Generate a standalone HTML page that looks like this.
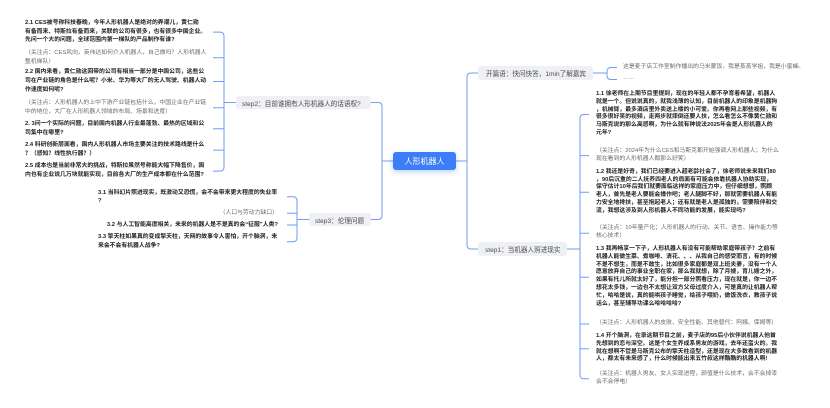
<!DOCTYPE html>
<html>
<head>
<meta charset="utf-8">
<style>
  html,body{margin:0;padding:0;}
  body{width:830px;height:408px;background:#fff;position:relative;overflow:hidden;
       font-family:"Liberation Sans","Noto Sans CJK SC",sans-serif;}
  .t{position:absolute;white-space:nowrap;font-size:5.85px;font-family:"Liberation Sans","Noto Sans CJK SC",sans-serif;}
  .b{font-weight:bold;color:#222;}
  .g{color:#6a6a6a;font-weight:normal;}
  .r{line-height:7.8px;}
  .l{line-height:8.8px;}
  .node{position:absolute;background:#eef0f3;border-radius:3px;color:#4d4d4d;font-size:6.6px;
        display:flex;align-items:center;white-space:nowrap;box-sizing:border-box;
        font-family:"Liberation Sans","Noto Sans CJK SC",sans-serif;}
  .center{position:absolute;left:393px;top:152px;width:63px;height:18px;background:#3d7ef6;border-radius:3px;
          color:#fff;font-size:8px;display:flex;align-items:center;justify-content:center;
          box-shadow:0 2px 6px rgba(61,126,246,0.35);
          font-family:"Liberation Sans","Noto Sans CJK SC",sans-serif;}
  svg{position:absolute;left:0;top:0;}
</style>
</head>
<body>
<svg width="830" height="408" viewBox="0 0 830 408">
  <g fill="none" stroke="#6f9df7" stroke-width="1">
    <!-- left main -->
    <path d="M393,161 H382"/>
    <path d="M371,102.5 H378 Q382,102.5 382,106.5 V215.5 Q382,219.5 378,219.5 H371"/>
    <!-- right main -->
    <path d="M456,161 H467"/>
    <path d="M478,73 H471 Q467,73 467,77 V245 Q467,249 471,249 H478"/>
    <!-- opening bracket -->
    <path d="M593,73 H607"/>
    <path d="M617,67.5 H611 Q607,67.5 607,71.5 V75.5 Q607,79.5 611,79.5 H617"/>
    <!-- step1 bracket -->
    <path d="M567,249 H580"/>
    <path d="M589,114.5 H584 Q580,114.5 580,118.5 V374.7 Q580,378.7 584,378.7 H589"/>
    <path d="M580,155.6 H589 M580,192.2 H589 M580,233.2 H589 M580,277.3 H589 M580,324 H589 M580,348.7 H589"/>
    <!-- step2 bracket -->
    <path d="M236,102.5 H224"/>
    <path d="M213,32.1 H220 Q224,32.1 224,36.1 V167.1 Q224,171.1 220,171.1 H213"/>
    <path d="M213,57.7 H224 M213,81.5 H224 M213,107.7 H224 M213,128.7 H224 M213,150.1 H224"/>
    <!-- step3 bracket -->
    <path d="M309,219.5 H297"/>
    <path d="M287,196.7 H293 Q297,196.7 297,200.7 V237.7 Q297,241.7 293,241.7 H287"/>
    <path d="M287,213.3 H297 M287,225 H297"/>
  </g>
</svg>

<!-- central node -->
<div class="center">人形机器人</div>

<!-- main branch nodes -->
<div class="node" style="left:236px;top:96px;width:135px;height:13px;padding-left:6px;">step2：目前谁拥有人形机器人的话语权?</div>
<div class="node" style="left:309px;top:213px;width:62px;height:13px;padding-left:6px;">step3：伦理问题</div>
<div class="node" style="left:478px;top:66px;width:115px;height:14px;padding-left:8px;">开篇语：快问快答，1min了解嘉宾</div>
<div class="node" style="left:478px;top:242px;width:89px;height:14px;padding-left:7px;">step1：当机器人照进现实</div>

<!-- opening children -->
<div class="t g" style="left:623px;top:63.6px;line-height:7.8px;">这是麦子店工作室制作播出的马米蒙饭，我是蒸蒸学姐，我是小蜜蜂。</div>
<div class="t g" style="left:623px;top:75.1px;line-height:7.8px;">……</div>

<!-- step1 children -->
<div class="t b r" style="left:596px;top:91.1px;">1.1 徐老师在上期节目里提到，现在的年轻人都不孕育着希望，机器人<br>就是一个。但说说真的，就我浅薄的认知，目前机器人的印象是机器狗<br>，机械臂，最多酒店里外卖送上楼的小可爱。你再看网上那些视频，有<br>很多很好笑的视频，走两步就摔倒还要人扶，怎么看怎么不像黄仁勋和<br>马斯克说的那么高感啊，为什么就有种说法2025年会是人形机器人的<br>元年?</div>
<div class="t g r" style="left:596px;top:147.8px;">（关注点：2024年为什么CES和马斯克都开始强调人形机器人；为什么<br>现在看到的人形机器人都那么好笑）</div>
<div class="t b r" style="left:596px;top:168.8px;">1.2 我还是好奇，我们已经要进入超老龄社会了，徐老师说未来我们80<br>，90后沉重的二人抚养四老人的局面有可能会依靠机器人协助实现，<br>保守估计10年后我们就要面临这样的家庭压力中，但仔细想想，照顾<br>老人，首先是老人要能会操作吧；老人腿脚不好，那就需要机器人有能<br>力安全地搀扶，甚至抱起老人；还有就是老人是孤独的，需要陪伴和交<br>流，我想这涉及到人形机器人不同功能的发展，能实现吗?</div>
<div class="t g r" style="left:596px;top:225.4px;">（关注点：10年量产化；人形机器人的行动、关节、语言、操作能力等<br>核心技术）</div>
<div class="t b r" style="left:596px;top:246.1px;">1.3 我再畅享一下子，人形机器人有没有可能帮助家庭带孩子？之前有<br>机器人能做生菜、煮咖啡、清花、、、从我自己的感受而言，有的时候<br>不是不想生，而是不敢生，比如很多家庭都是双上班夫妻，没有一个人<br>愿意放弃自己的事业全职在家，那么我就想，除了月嫂，育儿嫂之外，<br>如果有托儿所就太好了，能分担一部分照看压力，现在就是，你一边不<br>想花太多钱，一边也不太想让双方父母过度介入，可是真的让机器人帮<br>忙，哈哈是说，真的能哄孩子睡觉，给孩子喂奶，做饭洗衣，教孩子说<br>话么，甚至辅导功课么哈哈哈哈?</div>
<div class="t g r" style="left:596px;top:320.1px;">（关注点：人形机器人的皮肤、安全性能、其他替代：阿姨、保姆等）</div>
<div class="t b r" style="left:596px;top:333.1px;">1.4 开个脑洞，在录这期节目之前，麦子店的95后小伙伴说机器人他首<br>先想到的恋与深空。这是个女生养成系男友的游戏，去年还蛮火的。我<br>就在想啊不管是马斯克公布的擎天柱造型，还是现在大多数看到的机器<br>人，都太有未来感了，什么时候能出来五竹叔这样酷酷的机器人啊!</div>
<div class="t g r" style="left:596px;top:370.8px;">（关注点：机器人男友、女人实现进程，颜值是什么技术，会不会掉漆<br>会不会停电）</div>

<!-- step2 children -->
<div class="t b l" style="left:25px;top:18.9px;">2.1 CES被号称科技春晚，今年人形机器人是绝对的弄潮儿，黄仁勋<br>有备而来、特斯拉有备而来，关联的公司有很多，也有很多中国企业。<br>先问一个大的问题，全球范围内第一梯队的产品制作有谁?</div>
<div class="t g l" style="left:25px;top:48.9px;">（关注点：CES风向，英伟达如何介入机器人，自己做吗？人形机器人<br>整机梯队）</div>
<div class="t b l" style="left:25px;top:68.3px;">2.2 国内来看，黄仁勋这回带的公司有相当一部分是中国公司，这些公<br>司在产业链的角色是什么呢？小米、华为等大厂的无人驾驶、机器人动<br>作速度如何呢?</div>
<div class="t g l" style="left:25px;top:98.9px;">（关注点：人形机器人的上中下游产业链包括什么，中国企业在产业链<br>中的地位，大厂在人形机器人领域的布局、场景和进度）</div>
<div class="t b l" style="left:25px;top:119.9px;">2. 3问一个实际的问题，目前国内机器人行业最蓬勃、最热的区域和公<br>司集中在哪里?</div>
<div class="t b l" style="left:25px;top:141.3px;">2.4 科研创新层面看，国内人形机器人市场主要关注的技术路线是什么<br>？（感知？线性执行器？）</div>
<div class="t b l" style="left:25px;top:162.3px;">2.5 成本也是当前非常大的挑战，特斯拉虽然号称能大幅下降售价，国<br>内也有企业说几万块就能实现，目前各大厂的生产成本都在什么范围?</div>

<!-- step3 children -->
<div class="t b" style="left:98px;top:188.7px;line-height:8px;">3.1 当科幻片照进现实，既激动又恐慌，会不会带来更大程度的失业率<br>?</div>
<div class="t g" style="right:552px;top:209.3px;line-height:8px;">（人口与劳动力缺口）</div>
<div class="t b" style="right:552px;top:221px;line-height:8px;">3.2 与人工智能高度相关，未来的机器人是不是真的会“征服”人类?</div>
<div class="t b" style="left:98px;top:233px;line-height:8.7px;">3.3 擎天柱如果真的变成擎天柱，天网的故事令人害怕，开个脑洞，未<br>来会不会有机器人战争?</div>

</body>
</html>
